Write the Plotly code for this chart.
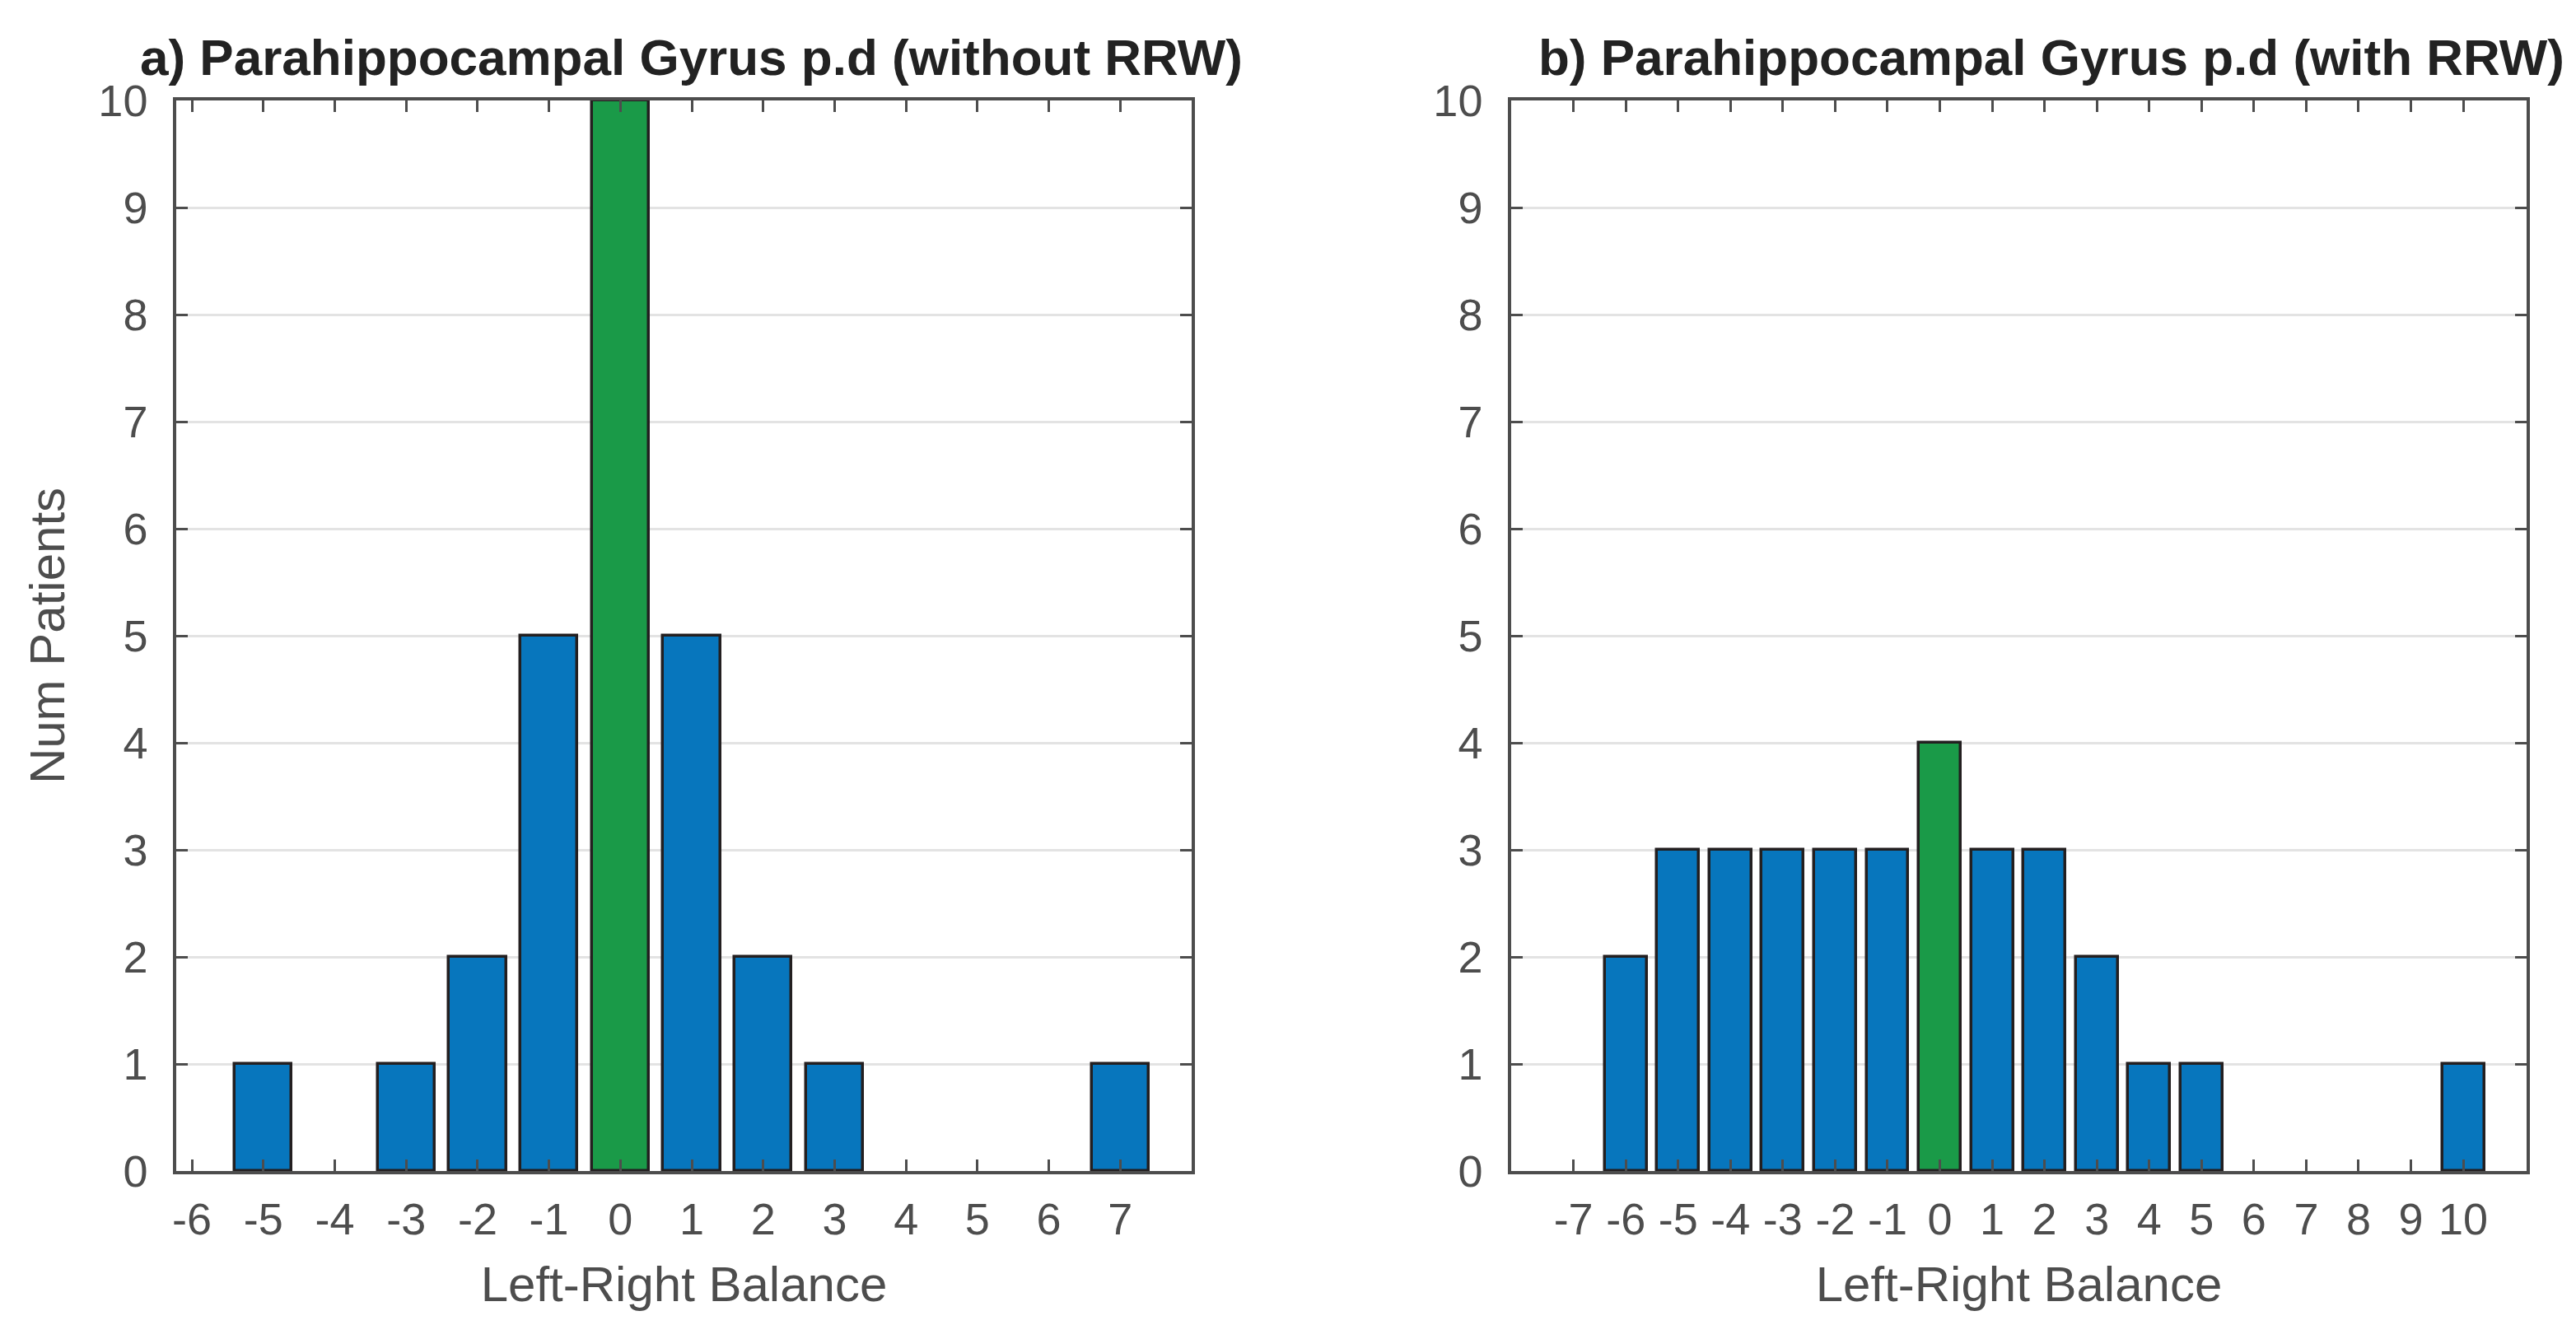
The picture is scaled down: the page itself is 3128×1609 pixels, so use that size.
import plotly.graph_objects as go

# ---- data ----
balance_a = [-5, -3, -2, -1, 0, 1, 2, 3, 7]
patients_a = [1, 1, 2, 5, 10, 5, 2, 1, 1]
ticks_a = list(range(-6, 8))

balance_b = [-6, -5, -4, -3, -2, -1, 0, 1, 2, 3, 4, 5, 10]
patients_b = [2, 3, 3, 3, 3, 3, 4, 3, 3, 2, 1, 1, 1]
ticks_b = list(range(-7, 11))

yticks = list(range(0, 11))

title_a = "a) Parahippocampal Gyrus p.d (without RRW)"
title_b = "b) Parahippocampal Gyrus p.d (with RRW)"
xlabel = "Left-Right Balance"
ylabel = "Num Patients"

BLUE = "#0776BD"
GREEN = "#1A9A48"
EDGE = "#231F20"
AX = "#4D4D4D"
FONT = "Liberation Sans, Arial, Helvetica, sans-serif"

W, H = 3128, 1609
ML, MR, MT, MB = 206, 68, 114, 195
PW = W - ML - MR
dom_a = [0, 1233 / PW]
dom_b = [(1827 - ML) / PW, 1]


def colors(xs):
    return [GREEN if v == 0 else BLUE for v in xs]


def labels(ts):
    return [str(t) for t in ts]  # plain hyphen-minus, as in the reference


fig = go.Figure()
fig.add_trace(go.Bar(x=balance_a, y=patients_a, width=0.8,
                     marker=dict(color=colors(balance_a), line=dict(color=EDGE, width=3.5)),
                     xaxis="x", yaxis="y", showlegend=False))
fig.add_trace(go.Bar(x=balance_b, y=patients_b, width=0.8,
                     marker=dict(color=colors(balance_b), line=dict(color=EDGE, width=3.5)),
                     xaxis="x2", yaxis="y2", showlegend=False))

common_x = dict(showline=True, linecolor=AX, linewidth=3.5, mirror="ticks",
                ticks="inside", ticklen=14, tickwidth=3, tickcolor=AX,
                showgrid=False, zeroline=False, tickmode="array", tickangle=0,
                tickfont=dict(family=FONT, size=54, color=AX),
                title=dict(text=xlabel, font=dict(family=FONT, size=60, color=AX), standoff=30),
                ticklabelstandoff=8, automargin=False)
common_y = dict(showline=True, linecolor=AX, linewidth=3.5, mirror="ticks",
                ticks="inside", ticklen=14, tickwidth=3, tickcolor=AX,
                showgrid=True, gridcolor="#E3E3E3", gridwidth=3, zeroline=False,
                tickmode="array", tickvals=yticks, range=[0, 10],
                tickfont=dict(family=FONT, size=54, color=AX),
                ticklabelstandoff=20, automargin=False)

fig.update_layout(
    width=W, height=H,
    margin=dict(l=ML, r=MR, t=MT, b=MB, autoexpand=False),
    paper_bgcolor="white", plot_bgcolor="white",
    bargap=0,
    xaxis=dict(domain=dom_a, range=[-6.22, 8.0], tickvals=ticks_a, ticktext=labels(ticks_a),
               anchor="y", **common_x),
    yaxis=dict(domain=[0, 1], anchor="x",
               title=dict(text=ylabel, font=dict(family=FONT, size=60, color=AX), standoff=22),
               **common_y),
    xaxis2=dict(domain=dom_b, range=[-8.19, 11.21], tickvals=ticks_b, ticktext=labels(ticks_b),
                anchor="y2", **common_x),
    yaxis2=dict(domain=[0, 1], anchor="x2", **common_y),
)

for dom, txt, dx in ((dom_a, title_a, 9), (dom_b, title_b, 39)):
    fig.add_annotation(text="<b>" + txt + "</b>", xref="paper", yref="paper",
                       x=(dom[0] + dom[1]) / 2, y=1, xanchor="center", yanchor="bottom",
                       xshift=dx, yshift=16, showarrow=False,
                       font=dict(family=FONT, size=62, color="#222222"))

fig.write_html("out.html")
